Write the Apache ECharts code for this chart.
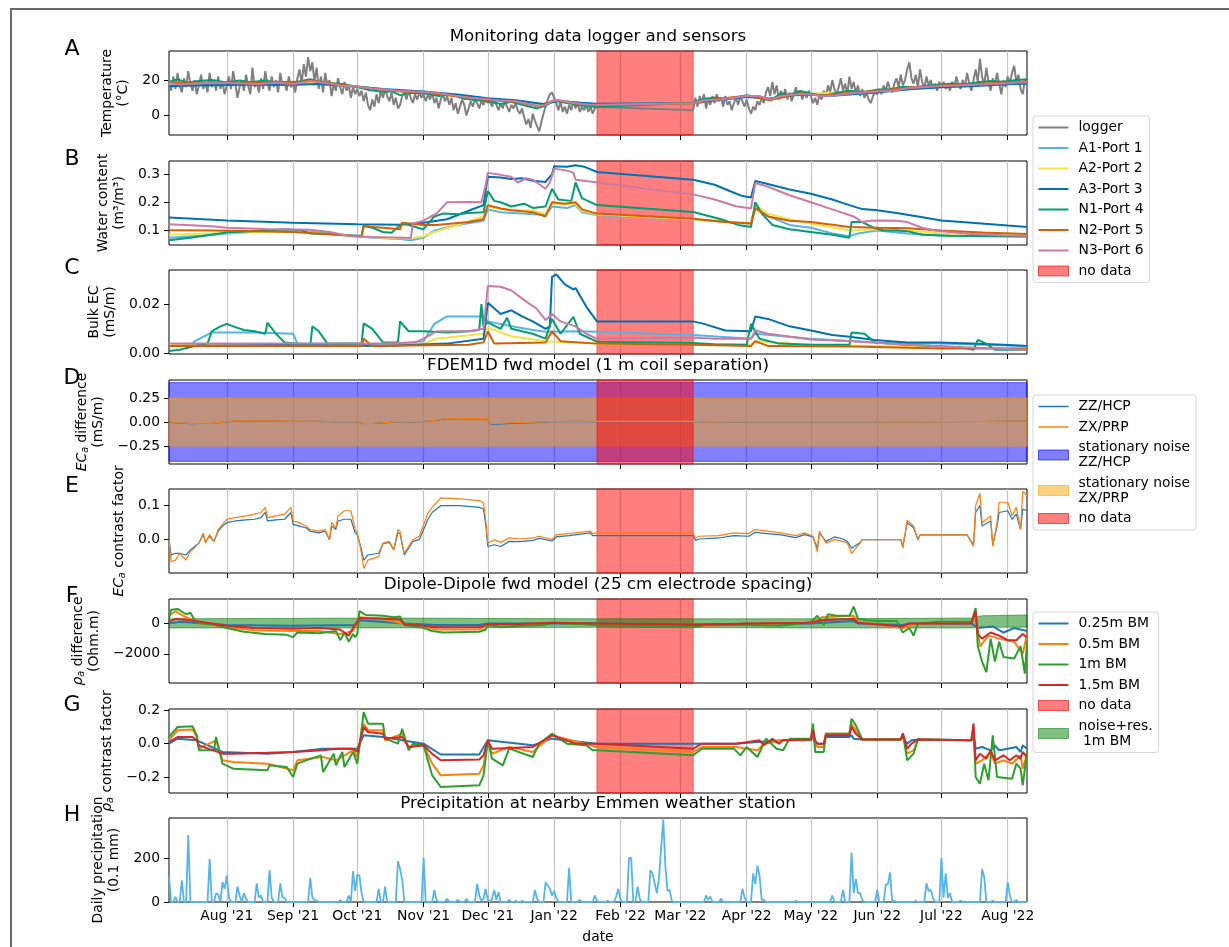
<!DOCTYPE html>
<html>
<head>
<meta charset="utf-8">
<title>Monitoring data</title>
<script src="https://cdn.jsdelivr.net/npm/echarts@6/dist/echarts.min.js"></script>
<style>
  html, body { margin: 0; padding: 0; background: #fff; }
  #chart { width: 1229px; height: 947px; }
</style>
</head>
<body>
<div id="chart"></div>
<script>
// time points are [days since 2021-07-05, value]
const DAY = 86400000;
const T0 = Date.UTC(2021, 6, 5);
const T1 = Date.UTC(2022, 7, 10);

const monthTicks = ['2021-08-01', '2021-09-01', '2021-10-01', '2021-11-01', '2021-12-01', '2022-01-01',
  '2022-02-01', '2022-03-01', '2022-04-01', '2022-05-01', '2022-06-01', '2022-07-01', '2022-08-01'];
const monthNames = ['Jan', 'Feb', 'Mar', 'Apr', 'May', 'Jun', 'Jul', 'Aug', 'Sep', 'Oct', 'Nov', 'Dec'];
const noDataSpan = ['2022-01-21', '2022-03-07'];

// --- A: temperature (°C) ---
// logger, one value per day, before and after the gap
const tempLoggerA = [
  20, 14, 22, 15, 24, 17, 13, 21, 16, 25, 18, 14, 20, 12, 17, 23, 15, 19, 13, 24,
  16, 20, 14, 22, 15, 19, 12, 17, 22, 15, 25, 18, 10, 16, 20, 14, 23, 17, 12, 27,
  16, 19, 13, 21, 15, 25, 18, 14, 22, 16, 20, 13, 24, 17, 19, 14, 22, 16, 18, 13,
  21, 26, 18, 29, 22, 33, 25, 30, 19, 27, 15, 22, 13, 24, 17, 20, 11, 18, 14, 21,
  16, 12, 19, 14, 17, 10, 16, 12, 15, 11, 14, 8, 13, 6, 3, 9, 5, 12, 7, 14,
  10, 15, 11, 8, 13, 6, 10, 4, 6, 11, 13, 9, 14, 10, 7, 12, 9, 13, 10, 12,
  8, 12, 9, 13, 7, 10, 4, 9, 12, 8, 11, 6, 10, 3, 7, 1, 5, 9, 6, 0,
  4, 8, 5, 9, 7, 4, 8, 6, 9, 7, 8, 5, 9, 6, 3, 7, 4, 8, 5, 2,
  6, 4, 7, 3, 1, 4, -1, -5, -2, -7, 1, -3, -6, -9, -4, 1, 5, 9, 12, 13,
  10, 7, 3, 8, 2, 5, 1, 6, 3, 8, 4, 7, 2, 5, 3, 6, 2, 5, 1, 4, 5
];
const tempLoggerB = [
  3, 10, 5, 11, 7, 12, 4, 9, 6, 11, 7, 12, 8, 10, 5, 11, 6, 8, 3, 7,
  10, 6, 11, 8, 5, 9, 4, 1, 5, 3, 8, 6, 10, 7, 13, 16, 11, 19, 12, 17,
  9, 14, 10, 15, 9, 13, 8, 12, 16, 11, 14, 9, 13, 10, 14, 11, 7, 10, 6, 12,
  9, 14, 11, 17, 13, 20, 15, 12, 16, 21, 14, 18, 12, 22, 15, 19, 13, 17, 11, 15,
  10, 13, 9, 7, 11, 13, 12, 15, 12, 17, 14, 19, 15, 13, 18, 21, 16, 23, 17, 20,
  26, 30, 21, 18, 23, 16, 26, 19, 15, 22, 17, 20, 15, 18, 14, 19, 16, 19, 15, 17,
  14, 19, 16, 22, 17, 15, 20, 16, 24, 18, 14, 20, 26, 19, 32, 22, 17, 27, 19, 14,
  21, 17, 24, 18, 12, 20, 16, 22, 18, 24, 28, 19, 23, 15, 12, 20, 17
];
const tempA1 = [[0,17.5],[15,17.8],[35,18],[58,17.5],[70,18.5],[88,16],[108,13.8],[119,13.4],[140,10.5],[149,9.4],[173,5.8],[180,8.4],[200,6.3],[245,6.9],[270,10.8],[281,9.2],[295,12],[331,13.4],[361,16.4],[392,18],[401,18.4]];
const tempA2 = [[0,18],[15,18.2],[35,18.2],[58,17.6],[70,18.8],[88,16.2],[108,13.9],[119,13.4],[140,10.4],[149,9.2],[173,5.5],[180,8.6],[200,6.1],[245,6.9],[270,11],[281,9],[295,12.2],[331,13.6],[361,16.6],[392,18.2],[401,18.6]];
const tempA3 = [[0,16.5],[10,17],[27,17.2],[45,17.5],[58,17.3],[70,17.8],[88,16.4],[100,15],[119,13.6],[135,11.8],[149,9.8],[162,8.6],[175,6.5],[182,8.2],[192,7.2],[200,6.6],[245,7.0],[255,8.4],[270,10.4],[281,9.6],[295,11.8],[310,11.2],[331,13.0],[346,14.8],[361,16.0],[377,16.6],[392,17.6],[401,18.0]];
const tempN1 = [[0,19],[4,20.5],[8,18.5],[14,19.5],[20,20],[27,18.7],[33,19.8],[38,18.8],[45,19.8],[50,18.5],[58,18.3],[62,19.5],[66,20.5],[70,19],[76,18.2],[82,17.6],[88,16.0],[94,14.2],[100,13.4],[104,13.6],[108,11.5],[113,12.8],[119,12.6],[126,11.0],[132,11.8],[138,9.4],[144,8.6],[149,8.0],[155,6.5],[160,7.8],[165,6.0],[172,4.0],[176,5.5],[180,8.4],[184,7.5],[190,6.2],[195,5.2],[200,4.8],[245,7.2],[250,9.5],[255,10.0],[260,9.3],[266,10.5],[270,11.5],[276,10.2],[281,8.4],[286,12.5],[290,11.6],[295,13.8],[300,12.5],[306,11.0],[312,12.8],[318,14.0],[324,13.2],[331,14.5],[337,14.8],[343,16.2],[349,15.8],[355,17.0],[361,17.5],[366,18.0],[372,17.6],[378,18.8],[384,19.5],[390,19.0],[396,20.0],[401,20.5]];
const tempN2 = [[0,18.8],[8,18.0],[20,18.7],[35,18.3],[50,18.8],[63,19.2],[66,19.8],[80,17.3],[88,16.3],[100,14.6],[108,13.6],[119,13.1],[132,11.2],[140,10.0],[149,8.8],[162,7.8],[173,5.0],[180,8.6],[192,6.4],[200,5.8],[245,6.8],[255,9.2],[270,11.2],[281,8.8],[295,12.6],[305,11.2],[318,12.8],[331,13.8],[346,15.8],[361,17.0],[377,17.8],[392,18.6],[401,19.2]];
const tempN3 = [[0,18.5],[5,17.5],[12,18],[20,18.5],[27,18.3],[35,18],[42,17.8],[50,18.5],[58,17.8],[63,18.8],[66,19.5],[72,18.5],[80,17],[88,16.2],[95,15.2],[102,14.5],[108,13.8],[115,13.5],[119,13.3],[125,12.8],[132,11.5],[140,10.2],[149,9.2],[155,8.4],[162,8.0],[168,6.5],[173,5.2],[176,6.0],[179,8.2],[182,8.8],[186,7.6],[192,6.6],[196,6.2],[200,6.0],[245,6.9],[250,8.6],[258,9.0],[264,10.0],[270,11.0],[276,11.0],[281,9.0],[287,11.2],[295,12.2],[300,11.8],[305,11.0],[312,11.4],[318,12.4],[325,13.0],[331,13.6],[338,14.0],[346,15.5],[352,16.0],[361,16.7],[368,17.0],[377,17.4],[384,17.8],[392,18.2],[397,18.6],[401,18.8]];

// --- B: water content (m3/m3) ---
const wcA1 = [[0,0.075],[15,0.082],[27,0.09],[50,0.1],[66,0.097],[80,0.085],[95,0.075],[108,0.07],[113,0.066],[119,0.075],[124,0.1],[135,0.12],[147,0.135],[149,0.175],[155,0.165],[165,0.16],[176,0.155],[179,0.185],[186,0.18],[190,0.19],[193,0.165],[200,0.155],[245,0.14],[260,0.13],[272,0.125],[274,0.185],[280,0.15],[290,0.12],[300,0.11],[310,0.09],[318,0.08],[322,0.09],[331,0.1],[345,0.09],[361,0.083],[401,0.078]];
const wcA2 = [[0,0.085],[20,0.09],[40,0.095],[58,0.097],[75,0.088],[88,0.08],[100,0.075],[113,0.072],[119,0.08],[124,0.095],[135,0.12],[147,0.15],[149,0.185],[155,0.175],[170,0.17],[176,0.16],[179,0.195],[190,0.195],[193,0.17],[200,0.158],[245,0.14],[272,0.125],[274,0.19],[280,0.16],[290,0.14],[300,0.125],[318,0.1],[331,0.105],[345,0.1],[361,0.09],[401,0.085]];
const wcA3 = [[0,0.146],[27,0.136],[58,0.128],[88,0.122],[108,0.121],[119,0.128],[130,0.14],[140,0.17],[147,0.19],[149,0.29],[155,0.288],[160,0.282],[165,0.285],[170,0.276],[176,0.272],[179,0.3],[180,0.327],[186,0.326],[190,0.331],[194,0.326],[200,0.307],[245,0.28],[255,0.262],[262,0.24],[268,0.222],[272,0.217],[274,0.275],[278,0.268],[290,0.245],[300,0.23],[310,0.21],[318,0.19],[324,0.176],[331,0.172],[340,0.162],[350,0.15],[361,0.136],[375,0.128],[392,0.118],[401,0.113]];
const wcN1 = [[0,0.066],[10,0.075],[27,0.093],[45,0.1],[55,0.105],[62,0.1],[66,0.09],[75,0.088],[88,0.082],[90,0.082],[91,0.118],[95,0.11],[100,0.095],[104,0.092],[109,0.125],[113,0.118],[117,0.108],[119,0.105],[124,0.15],[128,0.16],[135,0.158],[140,0.162],[147,0.165],[149,0.24],[152,0.205],[155,0.2],[160,0.185],[166,0.195],[170,0.18],[176,0.185],[179,0.248],[182,0.21],[188,0.205],[190,0.27],[193,0.215],[200,0.19],[245,0.166],[258,0.14],[266,0.12],[272,0.113],[274,0.2],[277,0.16],[282,0.12],[290,0.105],[300,0.095],[310,0.085],[318,0.075],[319,0.13],[324,0.13],[330,0.108],[334,0.1],[340,0.1],[345,0.098],[352,0.085],[365,0.082],[392,0.08],[401,0.08]];
const wcN2 = [[0,0.101],[20,0.1],[40,0.098],[58,0.095],[75,0.087],[88,0.08],[90,0.08],[91,0.115],[100,0.11],[108,0.105],[109,0.128],[119,0.12],[125,0.12],[140,0.13],[147,0.14],[149,0.19],[155,0.178],[160,0.172],[170,0.165],[176,0.15],[179,0.2],[185,0.195],[190,0.2],[193,0.175],[200,0.16],[245,0.142],[260,0.13],[272,0.125],[274,0.178],[280,0.15],[290,0.135],[300,0.13],[318,0.113],[331,0.11],[345,0.108],[361,0.1],[380,0.093],[401,0.088]];
const wcN3 = [[0,0.122],[20,0.115],[27,0.11],[45,0.106],[66,0.103],[75,0.095],[85,0.08],[95,0.077],[110,0.075],[113,0.074],[114,0.125],[119,0.135],[122,0.148],[125,0.16],[130,0.2],[140,0.201],[146,0.2],[148,0.26],[149,0.304],[155,0.297],[160,0.29],[163,0.27],[167,0.285],[170,0.28],[176,0.248],[178,0.27],[180,0.319],[186,0.312],[189,0.305],[190,0.28],[195,0.275],[200,0.27],[245,0.228],[255,0.21],[265,0.186],[272,0.178],[274,0.268],[280,0.255],[290,0.225],[300,0.2],[310,0.175],[320,0.15],[324,0.13],[328,0.135],[334,0.136],[340,0.135],[345,0.13],[352,0.11],[358,0.1],[365,0.095],[375,0.088],[392,0.083],[401,0.082]];

// --- C: bulk EC (mS/m) ---
const ecA1 = [[0,0.003],[10,0.003],[12,0.005],[20,0.0085],[40,0.0085],[58,0.008],[60,0.004],[100,0.0035],[119,0.005],[124,0.012],[130,0.015],[147,0.015],[149,0.013],[160,0.011],[170,0.0095],[176,0.0088],[190,0.009],[200,0.0088],[245,0.0075],[272,0.006],[274,0.008],[300,0.006],[330,0.0045],[360,0.004],[401,0.003]];
const ecA2 = [[0,0.0035],[100,0.003],[119,0.004],[125,0.006],[147,0.008],[149,0.0105],[160,0.007],[176,0.005],[200,0.004],[272,0.0035],[274,0.005],[300,0.0035],[360,0.0025],[401,0.002]];
const ecA3 = [[0,0.003],[60,0.0035],[100,0.003],[130,0.004],[147,0.006],[149,0.0205],[155,0.016],[160,0.0175],[165,0.015],[170,0.013],[176,0.01],[178,0.011],[179,0.031],[181,0.032],[185,0.028],[189,0.026],[190,0.0265],[195,0.019],[200,0.013],[245,0.013],[250,0.012],[260,0.0093],[272,0.009],[274,0.015],[280,0.014],[290,0.011],[300,0.0093],[310,0.0075],[318,0.0068],[330,0.0055],[345,0.0045],[360,0.0045],[375,0.004],[390,0.0035],[401,0.003]];
const ecN1 = [[0,0.001],[5,0.0015],[12,0.003],[18,0.004],[20,0.009],[24,0.011],[27,0.012],[30,0.011],[35,0.0095],[40,0.009],[45,0.008],[46,0.0125],[50,0.008],[54,0.0045],[60,0.004],[66,0.003],[67,0.011],[70,0.009],[74,0.004],[90,0.004],[91,0.0122],[95,0.01],[100,0.0045],[107,0.0045],[108,0.013],[112,0.009],[119,0.009],[130,0.0085],[140,0.009],[145,0.0095],[146,0.02],[147,0.011],[149,0.0126],[155,0.01],[158,0.0145],[160,0.01],[170,0.008],[176,0.006],[179,0.014],[183,0.008],[189,0.0148],[192,0.008],[200,0.0048],[245,0.0043],[255,0.0037],[270,0.0035],[272,0.012],[276,0.006],[285,0.004],[300,0.0035],[318,0.0035],[319,0.0085],[325,0.008],[330,0.0045],[345,0.0035],[370,0.0025],[376,0.0015],[378,0.0055],[382,0.004],[386,0.0015],[401,0.0015]];
const ecN2 = [[0,0.003],[90,0.003],[91,0.006],[95,0.003],[140,0.0035],[147,0.0045],[149,0.009],[152,0.004],[176,0.0045],[179,0.009],[183,0.005],[200,0.004],[245,0.0035],[272,0.003],[274,0.005],[280,0.003],[320,0.0028],[360,0.002],[401,0.002]];
const ecN3 = [[0,0.004],[100,0.004],[115,0.0045],[119,0.006],[125,0.009],[140,0.009],[147,0.01],[149,0.0273],[155,0.027],[160,0.0255],[167,0.021],[172,0.018],[176,0.0135],[179,0.016],[183,0.013],[190,0.011],[195,0.008],[200,0.006],[245,0.0065],[255,0.006],[272,0.006],[274,0.0093],[280,0.008],[300,0.0057],[320,0.005],[345,0.0035],[370,0.0025],[401,0.0015]];

// --- D: FDEM ECa difference (mS/m) ---
const fdemNoiseZZ = [-0.41, 0.41];
const fdemNoiseZX = [-0.25, 0.25];
const fdemDiffZZ = [[0,-0.002],[2,-0.007],[10,-0.016],[20,-0.013],[27,-0.002],[30,0.01],[40,0.011],[58,0.008],[70,0.006],[80,0.002],[88,0.003],[90,-0.014],[93,-0.018],[100,-0.01],[108,0.001],[119,0.003],[125,0.017],[128,0.03],[140,0.032],[149,0.033],[150,-0.018],[152,-0.024],[160,-0.014],[170,-0.006],[180,0.003],[190,0.006],[200,0.004],[245,0.003],[250,0.0],[270,0.001],[290,0.003],[300,0.002],[320,0.001],[340,0.0],[360,0.003],[380,0.005],[392,0.009],[401,0.009]];
const fdemDiffZX = [[0,0.0],[2,-0.005],[10,-0.015],[20,-0.012],[27,0.0],[30,0.012],[40,0.013],[58,0.01],[70,0.008],[80,0.003],[88,0.005],[90,-0.012],[93,-0.016],[100,-0.008],[108,0.003],[113,0.003],[119,0.005],[125,0.02],[128,0.033],[140,0.035],[149,0.036],[150,-0.012],[152,-0.016],[160,-0.008],[170,-0.002],[180,0.005],[190,0.008],[200,0.006],[245,0.006],[250,0.002],[270,0.003],[290,0.005],[300,0.004],[320,0.003],[340,0.001],[360,0.004],[380,0.006],[392,0.01],[401,0.01]];

// --- E: FDEM ECa contrast factor ---
const fdemCfZZ = [[0,0.0],[1,-0.045],[3,-0.04],[5,-0.04],[8,-0.045],[10,-0.03],[11,-0.025],[14,-0.01],[16,0.015],[17,-0.005],[19,0.01],[21,-0.005],[23,0.025],[25,0.04],[27,0.05],[31,0.055],[36,0.058],[40,0.06],[43,0.065],[45,0.08],[46,0.055],[50,0.058],[54,0.06],[57,0.08],[58,0.045],[61,0.04],[64,0.035],[66,0.025],[70,0.02],[73,0.025],[75,0.0],[76,0.04],[78,0.03],[79,0.055],[82,0.06],[85,0.06],[87,0.02],[88,0.015],[90,-0.03],[91,-0.06],[93,-0.045],[98,-0.04],[100,-0.012],[103,-0.008],[105,-0.03],[107,0.02],[108,0.018],[109,-0.015],[110,-0.045],[114,-0.005],[117,0.0],[121,0.06],[123,0.08],[127,0.1],[136,0.1],[145,0.095],[147,0.09],[148,0.045],[149,-0.02],[152,-0.015],[155,-0.02],[159,-0.005],[164,-0.006],[170,-0.002],[173,0.004],[179,-0.004],[181,0.008],[187,0.012],[197,0.02],[198,0.012],[200,0.012],[245,0.012],[246,-0.002],[248,0.002],[257,0.005],[264,0.012],[271,0.01],[274,0.022],[276,0.02],[286,0.014],[293,0.006],[297,0.015],[301,0.008],[303,-0.025],[304,0.02],[307,-0.005],[311,0.008],[315,0.002],[317,-0.005],[319,-0.025],[323,-0.008],[324,0.0],[342,0.0],[343,-0.02],[345,0.05],[348,0.035],[350,0.0],[351,0.014],[373,0.014],[376,-0.015],[377,0.08],[379,0.1],[380,0.04],[384,0.055],[385,-0.015],[387,0.04],[388,0.08],[392,0.085],[394,0.06],[396,0.075],[398,0.03],[399,0.09],[401,0.085]];
const fdemCfZX = [[0,0.0],[1,-0.065],[3,-0.06],[5,-0.04],[8,-0.06],[10,-0.035],[11,-0.03],[14,-0.01],[16,0.02],[17,-0.01],[19,0.015],[21,-0.005],[23,0.03],[25,0.045],[27,0.06],[31,0.065],[36,0.07],[40,0.075],[43,0.08],[45,0.095],[46,0.065],[50,0.07],[54,0.075],[57,0.095],[58,0.055],[61,0.05],[64,0.04],[66,0.03],[70,0.025],[73,0.03],[75,0.0],[76,0.05],[78,0.035],[79,0.07],[82,0.085],[85,0.085],[87,0.03],[88,0.02],[90,-0.04],[91,-0.085],[93,-0.06],[98,-0.05],[100,-0.01],[103,-0.005],[105,-0.03],[107,0.03],[108,0.024],[109,-0.012],[110,-0.04],[114,0.0],[117,0.01],[121,0.078],[123,0.095],[127,0.123],[136,0.12],[145,0.115],[147,0.108],[148,0.06],[149,-0.01],[152,0.0],[155,-0.008],[159,0.005],[164,0.002],[170,0.005],[173,0.01],[179,0.0],[181,0.015],[187,0.018],[197,0.025],[198,0.018],[200,0.02],[245,0.02],[246,0.005],[248,0.01],[257,0.012],[264,0.02],[271,0.018],[274,0.03],[276,0.028],[286,0.02],[293,0.012],[297,0.02],[301,0.01],[303,-0.035],[304,0.025],[307,-0.01],[311,0.0],[315,-0.005],[317,-0.01],[319,-0.04],[323,-0.01],[324,0.0],[342,0.0],[343,-0.025],[345,0.057],[348,0.04],[350,0.0],[351,0.014],[373,0.014],[376,-0.02],[377,0.1],[379,0.137],[380,0.05],[384,0.07],[385,-0.02],[387,0.05],[388,0.11],[392,0.11],[394,0.07],[396,0.095],[398,0.03],[399,0.142],[401,0.13]];

// --- F: dipole-dipole rho_a difference (Ohm.m) ---
const ddNoiseLow = [[0,-300],[100,-300],[200,-250],[300,-300],[375,-300],[380,-250],[401,-250]];
const ddNoiseHigh = [[0,300],[100,350],[200,300],[300,300],[375,350],[380,500],[401,550]];
const ddDiff025 = [[0,0],[5,100],[27,-100],[58,-150],[88,-100],[89,200],[110,0],[125,-100],[145,-100],[149,0],[200,0],[245,-50],[300,0],[320,150],[322,0],[343,-100],[346,0],[375,0],[378,-300],[385,-200],[390,-600],[395,-300],[401,-500]];
const ddDiff05 = [[0,500],[3,800],[8,400],[15,0],[27,-250],[40,-450],[58,-500],[70,-500],[80,-700],[86,-500],[89,400],[100,300],[110,-50],[119,-200],[125,-400],[145,-400],[149,-100],[160,-100],[180,50],[200,-50],[245,-150],[270,-50],[300,50],[305,400],[320,500],[322,100],[343,-300],[350,0],[375,50],[377,600],[379,-1500],[383,-800],[388,-1000],[395,-1200],[399,-2000],[401,-700]];
const ddDiff1 = [[0,300],[1,900],[4,950],[8,600],[10,700],[12,200],[15,0],[20,-50],[27,-300],[35,-550],[45,-700],[55,-750],[58,-900],[60,-600],[70,-650],[78,-500],[80,-1100],[82,-600],[84,-1200],[86,-700],[87,-900],[88,-700],[89,800],[92,550],[100,500],[105,400],[108,450],[110,-100],[115,-200],[119,-300],[123,-500],[128,-600],[145,-550],[148,-400],[149,-100],[155,-250],[165,-150],[175,-100],[180,50],[185,0],[195,-50],[200,-100],[245,-250],[250,-100],[270,-100],[285,-150],[295,0],[300,100],[303,500],[306,-100],[308,600],[312,500],[318,500],[320,1100],[322,300],[326,200],[331,150],[340,150],[343,-600],[346,-300],[348,-800],[350,0],[360,100],[375,100],[377,1000],[378,-1500],[380,-2500],[382,-3200],[384,-1000],[386,-2500],[388,-1200],[390,-2200],[395,-2300],[398,-1500],[400,-3300],[401,-1200]];
const ddDiff15 = [[0,100],[3,300],[10,200],[20,0],[27,-150],[40,-300],[58,-350],[70,-300],[80,-400],[84,-800],[86,-300],[89,350],[100,300],[108,250],[110,-50],[119,-150],[125,-250],[145,-250],[149,-50],[160,-50],[180,50],[200,0],[245,-100],[270,0],[300,50],[305,200],[320,300],[322,50],[343,-200],[346,0],[375,0],[377,800],[378,-700],[380,-1000],[384,-600],[388,-800],[392,-1100],[396,-1100],[399,-700],[401,-900]];

// --- G: dipole-dipole rho_a contrast factor ---
const ddCf025 = [[0,0.0],[4,0.03],[13,0.02],[25,-0.05],[46,-0.06],[58,-0.05],[72,-0.03],[88,-0.03],[91,0.05],[100,0.04],[109,0.02],[119,0.0],[127,-0.065],[145,-0.065],[149,0.02],[170,-0.01],[179,0.03],[200,0.0],[245,0.0],[265,0.0],[275,0.01],[287,0.02],[300,0.02],[301,0.04],[302,0.0],[306,0.0],[307,0.04],[318,0.04],[319,0.05],[320,0.03],[324,0.025],[342,0.025],[343,0.04],[345,0.0],[347,0.02],[350,0.025],[375,0.02],[376,0.05],[377,-0.03],[380,-0.02],[384,-0.04],[386,-0.01],[388,-0.04],[392,-0.03],[396,-0.02],[398,-0.05],[399,-0.01],[401,-0.03]];
const ddCf05 = [[0,0.02],[4,0.08],[11,0.085],[13,0.04],[14,-0.03],[22,0.02],[25,-0.1],[30,-0.11],[46,-0.12],[58,-0.16],[60,-0.1],[72,-0.08],[78,-0.1],[86,-0.04],[88,-0.08],[91,0.12],[93,0.08],[100,0.08],[101,0.02],[109,0.06],[112,-0.02],[119,-0.01],[123,-0.12],[127,-0.19],[145,-0.18],[147,-0.13],[149,0.02],[151,-0.06],[159,-0.02],[170,-0.05],[179,0.05],[200,-0.02],[245,-0.05],[249,-0.02],[265,-0.02],[275,-0.04],[278,0.0],[287,0.02],[300,0.025],[301,0.09],[302,0.0],[303,-0.02],[306,-0.02],[307,0.06],[318,0.06],[319,0.12],[321,0.08],[324,0.025],[342,0.025],[343,0.06],[345,-0.06],[348,-0.04],[350,0.025],[375,0.02],[376,0.08],[377,-0.12],[380,-0.1],[384,-0.05],[386,-0.12],[390,-0.1],[394,-0.12],[398,-0.07],[399,-0.15],[401,-0.06]];
const ddCf1 = [[0,0.04],[4,0.1],[11,0.105],[13,0.05],[14,-0.04],[21,-0.04],[22,0.04],[25,-0.12],[30,-0.15],[46,-0.16],[47,-0.13],[55,-0.14],[58,-0.2],[60,-0.12],[64,-0.1],[71,-0.07],[72,-0.17],[77,-0.06],[78,-0.13],[81,-0.05],[82,-0.14],[86,-0.05],[88,-0.12],[91,0.19],[93,0.12],[100,0.12],[101,0.03],[107,0.0],[109,0.09],[112,-0.04],[114,0.0],[119,-0.01],[123,-0.19],[127,-0.26],[145,-0.25],[147,-0.19],[149,0.02],[151,-0.09],[156,-0.13],[159,-0.03],[170,-0.08],[173,0.0],[179,0.06],[186,0.0],[195,-0.01],[198,-0.04],[200,-0.04],[245,-0.07],[249,-0.03],[264,-0.03],[267,-0.07],[270,-0.02],[275,-0.08],[279,0.03],[284,-0.03],[287,-0.04],[290,0.03],[300,0.03],[301,0.12],[302,-0.05],[306,-0.05],[307,0.06],[318,0.06],[319,0.15],[321,0.11],[324,0.025],[342,0.025],[343,0.06],[345,-0.1],[348,-0.06],[350,0.025],[375,0.02],[376,0.1],[377,-0.2],[379,-0.24],[381,-0.12],[383,-0.22],[385,0.05],[387,-0.2],[394,-0.21],[396,-0.12],[398,-0.15],[399,-0.25],[401,-0.05]];
const ddCf15 = [[0,0.01],[4,0.04],[11,0.04],[13,0.02],[14,-0.01],[25,-0.06],[30,-0.06],[46,-0.055],[58,-0.05],[72,-0.04],[78,-0.03],[86,-0.03],[88,-0.05],[91,0.1],[93,0.07],[100,0.06],[101,0.03],[109,0.04],[112,-0.02],[119,-0.01],[123,-0.06],[127,-0.1],[145,-0.095],[147,-0.07],[149,0.02],[151,-0.03],[170,-0.02],[179,0.05],[190,0.0],[200,0.0],[245,-0.03],[249,0.0],[265,0.0],[276,0.02],[278,-0.01],[282,0.03],[285,0.0],[287,0.02],[300,0.025],[301,0.08],[302,0.02],[303,0.0],[306,0.0],[307,0.05],[318,0.05],[319,0.1],[321,0.06],[324,0.025],[342,0.025],[343,0.06],[345,-0.03],[347,0.0],[350,0.025],[375,0.02],[376,0.12],[377,-0.1],[379,-0.06],[382,-0.09],[384,-0.04],[386,-0.1],[390,-0.07],[393,-0.1],[396,-0.07],[398,-0.09],[399,-0.05],[401,-0.08]];

// --- H: daily precipitation (0.1 mm) ---
const precip = [[0,114],[1,0],[2,0],[3,23],[4,0],[5,0],[6,98],[7,0],[8,0],[9,305],[10,0],
  [18,0],[19,195],[20,0],[21,0],[22,40],[23,35],[24,0],[25,90],[26,60],[27,120],[28,20],[29,0],
  [31,0],[32,70],[33,30],[34,0],[35,40],[36,15],[37,0],[40,0],[41,85],[42,20],[43,30],[44,0],
  [46,0],[47,145],[48,20],[49,0],[51,0],[52,85],[53,20],[54,20],[55,0],
  [65,0],[66,110],[67,20],[68,10],[69,5],[70,0],[79,0],[80,8],[81,0],[83,0],[84,30],[85,0],
  [86,140],[87,50],[88,125],[89,120],[90,40],[91,0],[97,0],[98,60],[99,0],[100,0],[101,70],[102,0],
  [106,0],[107,185],[108,150],[109,100],[110,0],[118,0],[119,200],[120,0],
  [123,0],[124,55],[125,10],[126,0],[129,0],[130,15],[131,0],[134,0],[135,10],[136,0],[138,0],[139,15],[140,0],
  [143,0],[144,83],[145,30],[146,5],[147,15],[148,60],[149,10],[150,0],[151,15],[152,55],[153,10],[154,45],[155,0],
  [158,0],[159,10],[160,0],[161,0],[162,5],[163,0],[164,0],[165,5],[166,0],
  [170,0],[171,55],[172,15],[173,0],[175,0],[176,90],[177,75],[178,60],[179,30],[180,50],[181,20],[182,0],
  [186,0],[187,155],[188,0],[191,0],[192,10],[193,0],[198,0],[199,30],[200,5],[201,0],
  [204,0],[205,5],[206,0],[208,0],[209,25],[210,60],[211,10],[212,0],[214,0],[215,200],[216,200],[217,0],
  [218,0],[219,70],[220,15],[221,0],[224,0],[225,145],[226,130],[228,40],[229,110],[231,375],[232,160],
  [233,50],[234,55],[235,5],[236,0],[250,0],[251,30],[252,10],[253,25],[254,0],[257,0],[258,15],[259,0],
  [267,0],[268,60],[269,20],[270,0],[272,0],[273,130],[274,80],[275,165],[276,120],[277,10],[278,10],[279,0],
  [292,0],[293,5],[294,0],[309,0],[310,30],[311,0],[314,0],[315,55],[316,0],
  [318,0],[319,225],[320,40],[321,105],[322,40],[323,40],[324,10],[325,0],
  [330,0],[331,55],[332,0],[334,0],[335,80],[336,80],[337,135],[338,0],[339,5],[340,0],[348,0],[349,5],[350,0],
  [353,0],[354,85],[355,50],[356,55],[357,20],[358,0],[360,0],[361,200],[362,20],[363,130],[364,20],[365,40],[366,0],
  [369,0],[370,5],[371,0],[379,0],[380,150],[381,115],[382,0],[384,0],[385,5],[386,0],
  [391,0],[392,90],[393,30],[394,0],[395,0],[396,10],[397,0],[401,0]];

// tick values of the y axes
const ticksA = [0, 20];
const ticksB = [0.1, 0.2, 0.3];
const ticksC = [0, 0.02];
const ticksD = [-0.25, 0, 0.25];
const ticksE = [0, 0.1];
const ticksF = [-2000, 0];
const ticksG = [-0.2, 0, 0.2];
const ticksH = [0, 200];

// ---------------------------------------------------------------
const FONT = 'DejaVu Sans';
const FS = 13.9;
const at = d => T0 + d * DAY;
const pts = arr => arr.map(([d, v]) => [at(d), v]);
const daily = (start, vals) => vals.map((v, i) => [at(start + i), v]);
const dateTs = s => new Date(s).getTime();
const num = dec => v => (v < 0 ? '\u2212' : '') + Math.abs(v).toFixed(dec);

const colors = {
  logger: '#808080', A1: '#56B4E9', A2: '#F0E442', A3: '#0072B2',
  N1: '#009E73', N2: '#D55E00', N3: '#CC79A7',
  tabBlue: '#1f77b4', tabOrange: '#ff7f0e', tabGreen: '#2ca02c', tabRed: '#d62728',
  noData: 'rgba(255,0,0,0.5)', noiseZZ: 'rgba(0,0,255,0.5)', noiseZX: 'rgba(255,165,0,0.5)',
  noiseDD: 'rgba(0,128,0,0.5)', precip: '#56B4E9'
};

const tops = [51, 161, 270, 380, 489, 599, 709, 818];
const grids = tops.map(t => ({
  left: 169, right: 202, top: t, height: 84, show: true,
  borderColor: '#000', borderWidth: 1, backgroundColor: 'transparent', containLabel: false
}));

// x is a plain value axis holding timestamps, so the month ticks can be placed exactly
const tickTimes = monthTicks.map(dateTs);
const xAxes = tops.map((t, i) => ({
  type: 'value', gridIndex: i, min: T0, max: T1, scale: true,
  axisLine: { show: false, onZero: false },
  axisTick: { show: true, customValues: tickTimes, length: 5, lineStyle: { color: '#000', width: 1 } },
  splitLine: { show: true, lineStyle: { color: '#c4c4c4', width: 1.2 } },
  axisLabel: {
    show: i === 7, customValues: tickTimes, margin: 7, color: '#000', fontFamily: FONT, fontSize: FS,
    formatter: v => { const d = new Date(v); return monthNames[d.getUTCMonth()] + " '" + String(d.getUTCFullYear()).slice(2); }
  }
}));

const nameRich = {
  i: { fontFamily: FONT, fontSize: FS, fontStyle: 'italic', color: '#000' },
  s: { fontFamily: FONT, fontSize: 9.7, fontStyle: 'italic', color: '#000', verticalAlign: 'bottom', lineHeight: 9 }
};
function yAxis(i, min, max, ticks, fmt, name, gap) {
  return {
    type: 'value', gridIndex: i, min, max, name, nameLocation: 'middle', nameRotate: 90, nameGap: gap,
    nameTextStyle: { fontFamily: FONT, fontSize: FS, color: '#000', lineHeight: 16, rich: nameRich },
    axisLine: { show: false, onZero: false }, splitLine: { show: false },
    axisTick: { show: true, customValues: ticks, length: 5, lineStyle: { color: '#000', width: 1 } },
    axisLabel: { customValues: ticks, formatter: fmt, margin: 9, color: '#000', fontFamily: FONT, fontSize: FS }
  };
}
const yAxes = [
  yAxis(0, -11, 36.4, ticksA, num(0), 'Temperature\n(°C)', 36),
  yAxis(1, 0.049, 0.346, ticksB, num(1), 'Water content\n(m³/m³)', 39),
  yAxis(2, -0.0002, 0.0338, ticksC, num(2), 'Bulk EC\n(mS/m)', 48),
  yAxis(3, -0.4375, 0.4375, ticksD, num(2), '{i|EC}{s|a} difference\n(mS/m)', 59),
  yAxis(4, -0.098, 0.149, ticksE, num(1), '{i|EC}{s|a} contrast factor', 37),
  yAxis(5, -3910, 1600, ticksF, num(0), '{i|ρ}{s|a} difference\n(Ohm.m)', 63),
  yAxis(6, -0.296, 0.208, ticksG, num(1), '{i|ρ}{s|a} contrast factor', 52),
  yAxis(7, 0, 382, ticksH, num(0), 'Daily precipitation\n(0.1 mm)', 43)
];

const series = [];
function line(name, g, data, color, width) {
  series.push({
    name, type: 'line', xAxisIndex: g, yAxisIndex: g, data, showSymbol: false, symbol: 'none',
    lineStyle: { color, width }, itemStyle: { color }, silent: true, z: 3, animation: false
  });
}
function span(name, g, color, edge, areas) {
  series.push({
    name, type: 'line', xAxisIndex: g, yAxisIndex: g, data: [], symbol: 'none',
    itemStyle: { color }, lineStyle: { color }, z: 1, silent: true,
    markArea: {
      silent: true, label: { show: false },
      itemStyle: { color, borderColor: edge, borderWidth: 1 },
      data: areas
    }
  });
}
const noDataArea = [[{ xAxis: dateTs(noDataSpan[0]) }, { xAxis: dateTs(noDataSpan[1]) }]];

// A
line('logger', 0, daily(0, tempLoggerA).concat(daily(245, tempLoggerB)), colors.logger, 2);
line('A1-Port 1', 0, pts(tempA1), colors.A1, 2);
line('A2-Port 2', 0, pts(tempA2), colors.A2, 2);
line('A3-Port 3', 0, pts(tempA3), colors.A3, 2);
line('N1-Port 4', 0, pts(tempN1), colors.N1, 2);
line('N2-Port 5', 0, pts(tempN2), colors.N2, 2);
line('N3-Port 6', 0, pts(tempN3), colors.N3, 2);
span('no data', 0, colors.noData, colors.noData, noDataArea);
// B
line('A1-Port 1', 1, pts(wcA1), colors.A1, 2);
line('A2-Port 2', 1, pts(wcA2), colors.A2, 2);
line('A3-Port 3', 1, pts(wcA3), colors.A3, 2);
line('N1-Port 4', 1, pts(wcN1), colors.N1, 2);
line('N2-Port 5', 1, pts(wcN2), colors.N2, 2);
line('N3-Port 6', 1, pts(wcN3), colors.N3, 2);
span('no data', 1, colors.noData, colors.noData, noDataArea);
// C
line('A1-Port 1', 2, pts(ecA1), colors.A1, 2);
line('A2-Port 2', 2, pts(ecA2), colors.A2, 2);
line('A3-Port 3', 2, pts(ecA3), colors.A3, 2);
line('N1-Port 4', 2, pts(ecN1), colors.N1, 2);
line('N2-Port 5', 2, pts(ecN2), colors.N2, 2);
line('N3-Port 6', 2, pts(ecN3), colors.N3, 2);
span('no data', 2, colors.noData, colors.noData, noDataArea);
// D
span('stationary noise\nZZ/HCP', 3, colors.noiseZZ, 'rgba(0,0,255,0.6)', [[{ yAxis: fdemNoiseZZ[0] }, { yAxis: fdemNoiseZZ[1] }]]);
span('stationary noise\nZX/PRP', 3, colors.noiseZX, 'rgba(255,140,0,0.8)', [[{ yAxis: fdemNoiseZX[0] }, { yAxis: fdemNoiseZX[1] }]]);
span('no data', 3, colors.noData, colors.noData, noDataArea);
line('ZZ/HCP', 3, pts(fdemDiffZZ), colors.tabBlue, 1.2);
line('ZX/PRP', 3, pts(fdemDiffZX), colors.tabOrange, 1.2);
// E
span('no data', 4, colors.noData, colors.noData, noDataArea);
line('ZZ/HCP', 4, pts(fdemCfZZ), colors.tabBlue, 1.2);
line('ZX/PRP', 4, pts(fdemCfZX), colors.tabOrange, 1.2);
// F
span('no data', 5, colors.noData, colors.noData, noDataArea);
series.push({
  name: 'noise+res.\n 1m BM', type: 'custom', xAxisIndex: 5, yAxisIndex: 5, data: [[T0, 0]],
  itemStyle: { color: colors.noiseDD }, z: 2, silent: true,
  renderItem: (params, api) => {
    const up = ddNoiseHigh.map(([d, v]) => api.coord([at(d), v]));
    const lo = ddNoiseLow.map(([d, v]) => api.coord([at(d), v])).reverse();
    return { type: 'polygon', shape: { points: up.concat(lo) },
      style: { fill: colors.noiseDD, stroke: 'rgba(0,110,0,0.5)', lineWidth: 1 } };
  }
});
line('0.25m BM', 5, pts(ddDiff025), colors.tabBlue, 2);
line('0.5m BM', 5, pts(ddDiff05), colors.tabOrange, 2);
line('1m BM', 5, pts(ddDiff1), colors.tabGreen, 2);
line('1.5m BM', 5, pts(ddDiff15), colors.tabRed, 2);
// G
span('no data', 6, colors.noData, colors.noData, noDataArea);
line('0.25m BM', 6, pts(ddCf025), colors.tabBlue, 2);
line('0.5m BM', 6, pts(ddCf05), colors.tabOrange, 2);
line('1m BM', 6, pts(ddCf1), colors.tabGreen, 2);
line('1.5m BM', 6, pts(ddCf15), colors.tabRed, 2);
// H
line('precipitation', 7, pts(precip), colors.precip, 1.8);

// legend keys: thin bars for lines, filled boxes for shaded areas
const lineKey = (name, h) => ({ name, icon: 'path://M0,0H30V' + h + 'H0Z' });
const patch = (name, color, edge) => ({ name, icon: 'rect', itemStyle: { color, borderColor: edge, borderWidth: 1 } });
const legendBase = {
  orient: 'vertical', left: 1033, itemWidth: 30, itemHeight: 10, itemGap: 5.5, padding: [4, 6, 4, 5],
  backgroundColor: 'rgba(255,255,255,0.8)', borderColor: '#d6d6d6', borderWidth: 1, borderRadius: 3,
  selectedMode: false, symbolKeepAspect: true,
  textStyle: { fontFamily: FONT, fontSize: FS, color: '#000', lineHeight: 15, padding: [0, 0, 0, 5] }
};
const legends = [
  Object.assign({}, legendBase, { top: 116, data: [
    lineKey('logger', 2), lineKey('A1-Port 1', 2), lineKey('A2-Port 2', 2), lineKey('A3-Port 3', 2),
    lineKey('N1-Port 4', 2), lineKey('N2-Port 5', 2), lineKey('N3-Port 6', 2),
    patch('no data', colors.noData, 'rgba(230,0,0,0.6)')] }),
  Object.assign({}, legendBase, { top: 395, data: [lineKey('ZZ/HCP', 1.5), lineKey('ZX/PRP', 1.5),
    patch('stationary noise\nZZ/HCP', colors.noiseZZ, 'rgba(0,0,255,0.6)'),
    patch('stationary noise\nZX/PRP', colors.noiseZX, 'rgba(255,165,0,0.6)'),
    patch('no data', colors.noData, 'rgba(230,0,0,0.6)')] }),
  Object.assign({}, legendBase, { top: 612, data: [lineKey('0.25m BM', 2), lineKey('0.5m BM', 2),
    lineKey('1m BM', 2), lineKey('1.5m BM', 2),
    patch('no data', colors.noData, 'rgba(230,0,0,0.6)'),
    patch('noise+res.\n 1m BM', colors.noiseDD, 'rgba(0,110,0,0.5)')] })
];

const txt = (text, x, y, size) => ({
  type: 'text', x, y, silent: true, z: 50,
  style: { text, fill: '#000', font: size + 'px "' + FONT + '"', align: 'center', verticalAlign: 'middle',
    textAlign: 'center', textVerticalAlign: 'middle' }
});
const graphic = [
  { type: 'rect', silent: true, z: 100, shape: { x: 11, y: 9, width: 1300, height: 1000 },
    style: { fill: 'none', stroke: '#6a6a6a', lineWidth: 2 } },
  txt('Monitoring data logger and sensors', 598, 37, 16.7),
  txt('FDEM1D fwd model (1 m coil separation)', 598, 366, 16.7),
  txt('Dipole-Dipole fwd model (25 cm electrode spacing)', 598, 585, 16.7),
  txt('Precipitation at nearby Emmen weather station', 598, 804, 16.7),
  txt('date', 598, 937, FS)
];
['A', 'B', 'C', 'D', 'E', 'F', 'G', 'H'].forEach((l, i) => {
  graphic.push(txt(l, 72, [49, 159, 268, 378, 486, 596, 705, 815][i], 22));
});

const chart = echarts.init(document.getElementById('chart'), null, { renderer: 'canvas' });
chart.setOption({
  animation: false,
  backgroundColor: '#fff',
  textStyle: { fontFamily: FONT },
  grid: grids,
  xAxis: xAxes,
  yAxis: yAxes,
  legend: legends,
  series,
  graphic
});
</script>
</body>
</html>
